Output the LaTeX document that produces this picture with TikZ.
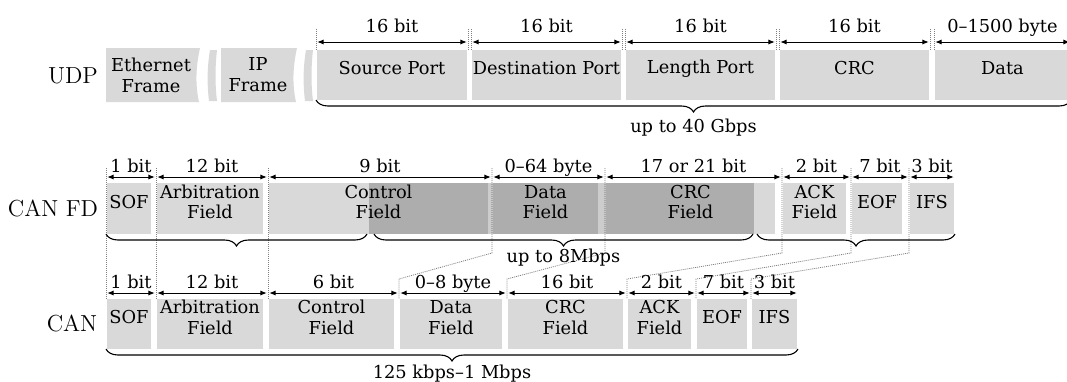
\documentclass[tikz,border=0pt]{standalone}
\usepackage{fontspec}
\newfontfamily\fieldfont{DejaVu Serif}
\usetikzlibrary{arrows.meta,decorations.pathreplacing,fit,backgrounds}
\definecolor{fieldgray}{HTML}{D9D9D9}
\tikzset{
  fieldbox/.style={fill=fieldgray, inner sep=0pt, outer xsep=0.5pt, outer ysep=0pt, align=center, font=\fieldfont\fontsize{8.9}{10.2}\selectfont},
  fdoverlay/.style={fill=black, fill opacity=0.2, inner sep=0pt, outer sep=0pt},
  boxtext/.style={align=center, font=\fieldfont\fontsize{8.9}{10.5}\selectfont},
  dimline/.style={{Latex[length=3.2pt,width=2.6pt]}-{Latex[length=3.2pt,width=2.6pt]}, line width=0.5pt, shorten <=0.6pt, shorten >=0.6pt},
  dimtick/.style={dash pattern=on 0.5pt off 0.5pt, line width=0.4pt, black!50},
  dimtext/.style={anchor=base, inner sep=0pt, font=\fieldfont\fontsize{8.9}{10.5}\selectfont},
  rowlabel/.style={inner sep=0pt, font=\fontsize{11.6}{13}\selectfont},
  bitbrace/.style={decorate, decoration={brace, mirror, amplitude=6pt}, line width=0.55pt},
}
\begin{document}
\begin{tikzpicture}[x=0.5pt, y=-0.5pt]
\useasboundingbox (0,0) rectangle (1067,381);

% UDP
\fill[fieldgray] (106,48) -- (200,48) .. controls (196,66) and (195,84) .. (199,102) -- (106,102) -- cycle;
\fill[fieldgray] (210,50) .. controls (207,68) and (207,84) .. (209,101) -- (217,101) .. controls (215,84) and (215,68) .. (217,50) -- cycle;
\fill[fieldgray] (221,48) -- (297,48) .. controls (293,66) and (292,84) .. (296,102) -- (221,102) -- cycle;
\fill[fieldgray] (306,50) .. controls (303,68) and (303,84) .. (305,101) -- (313,101) .. controls (311,84) and (311,68) .. (313,50) -- cycle;
\node[boxtext] (eth) at (151,75) {Ethernet\\Frame};
\node[boxtext] (ipf) at (258,75) {IP\\Frame};
\node[rowlabel] (udp) at (73,76) {UDP};

\foreach \nm/\xa/\xb/\txt in {src/317/467/Source Port, dst/472/621/Destination Port, len/626/775/Length Port, crc/780/929/CRC, dat/935/1070/Data}
  \node[fieldbox, fit={(\xa,50) (\xb,100)}] (\nm) {\txt};

\foreach \nm/\txt in {src/16 bit, dst/16 bit, len/16 bit, crc/16 bit, dat/0–1500 byte} {
  \draw[dimtick] (\nm.north west) -- ++(0,-22);
  \draw[dimtick] (\nm.north east) -- ++(0,-22);
  \draw[dimline] ([yshift=4pt]\nm.north west) -- ([yshift=4pt]\nm.north east)
    node[dimtext, midway, yshift=5pt] {\txt};
}
\draw[bitbrace] (src.south west) -- (dat.south east)
  node[dimtext, midway, yshift=-16pt] {up to 40 Gbps};

% CAN FD
\foreach \nm/\xa/\xb/\txt in {fsof/107/151/SOF, farb/157/263/{Arbitration\\Field}, fctl/269/488/{Control\\Field}, fdat/493/598/{Data\\Field}, fcrc/606/775/{CRC\\Field}, fack/783/846/{ACK\\Field}, feof/852/902/EOF, fifs/910/954/IFS}
  \node[fieldbox, fit={(\xa,183) (\xb,234)}] (\nm) {\txt};
\node[fdoverlay, fit={(369,183) (754,234)}] (fover) {};
\node[rowlabel] (canfd) at (53,208) {CAN FD};

\foreach \a/\b/\txt in {fsof/farb/1 bit, farb/fctl/12 bit, fctl/fdat/9 bit, fdat/fcrc/0–64 byte, fcrc/fack/17 or 21 bit, fack/feof/2 bit, feof/fifs/7 bit}
  \draw[dimline] ([yshift=3pt]\a.north west) -- ([yshift=3pt]\b.north west)
    node[dimtext, midway, yshift=2.5pt] {\txt};
\draw[dimline] ([yshift=3pt]fifs.north west) -- ([yshift=3pt]fifs.north east)
  node[dimtext, midway, yshift=2.5pt] {3 bit};

\draw[bitbrace] (fsof.south west) -- ([xshift=-1pt]fover.south west);
\draw[bitbrace] ([xshift=2.5pt]fover.south west) -- ([xshift=-0.5pt]fover.south east)
  node[dimtext, midway, yshift=-14pt] {up to 8Mbps};
\draw[bitbrace] ([xshift=1.5pt]fover.south east) -- (fifs.south east);

% CAN
\foreach \nm/\xa/\xb/\txt in {csof/107/151/SOF, carb/157/263/{Arbitration\\Field}, cctl/269/394/{Control\\Field}, cdat/400/502/{Data\\Field}, ccrc/508/623/{CRC\\Field}, cack/628/691/{ACK\\Field}, ceof/697/747/EOF, cifs/752/797/IFS}
  \node[fieldbox, fit={(\xa,299) (\xb,349)}] (\nm) {\txt};
\node[rowlabel] (can) at (72,323) {CAN};

\foreach \a/\b/\txt in {csof/carb/1 bit, carb/cctl/12 bit, cctl/cdat/6 bit, cdat/ccrc/0–8 byte, ccrc/cack/16 bit, cack/ceof/2 bit, ceof/cifs/7 bit}
  \draw[dimline] ([yshift=3pt]\a.north west) -- ([yshift=3pt]\b.north west)
    node[dimtext, midway, yshift=2.5pt] {\txt};
\draw[dimline] ([yshift=3pt]cifs.north west) -- ([yshift=3pt]cifs.north east)
  node[dimtext, midway, yshift=2.5pt] {3 bit};

\draw[bitbrace] (csof.south west) -- (cifs.south east)
  node[dimtext, midway, yshift=-14.5pt] {125 kbps–1 Mbps};

% CAN FD -> CAN
\begin{scope}[on background layer]
\foreach \f/\c in {fsof/csof, farb/carb, fctl/cctl, fdat/cdat, fcrc/ccrc, fack/cack, feof/ceof, fifs/cifs}
  \draw[dimtick] ([yshift=7.5pt]\f.north west) -- ([yshift=-9.5pt]\f.south west)
    -- ([yshift=10pt]\c.north west) -- (\c.north west);
\end{scope}
\end{tikzpicture}
\end{document}
